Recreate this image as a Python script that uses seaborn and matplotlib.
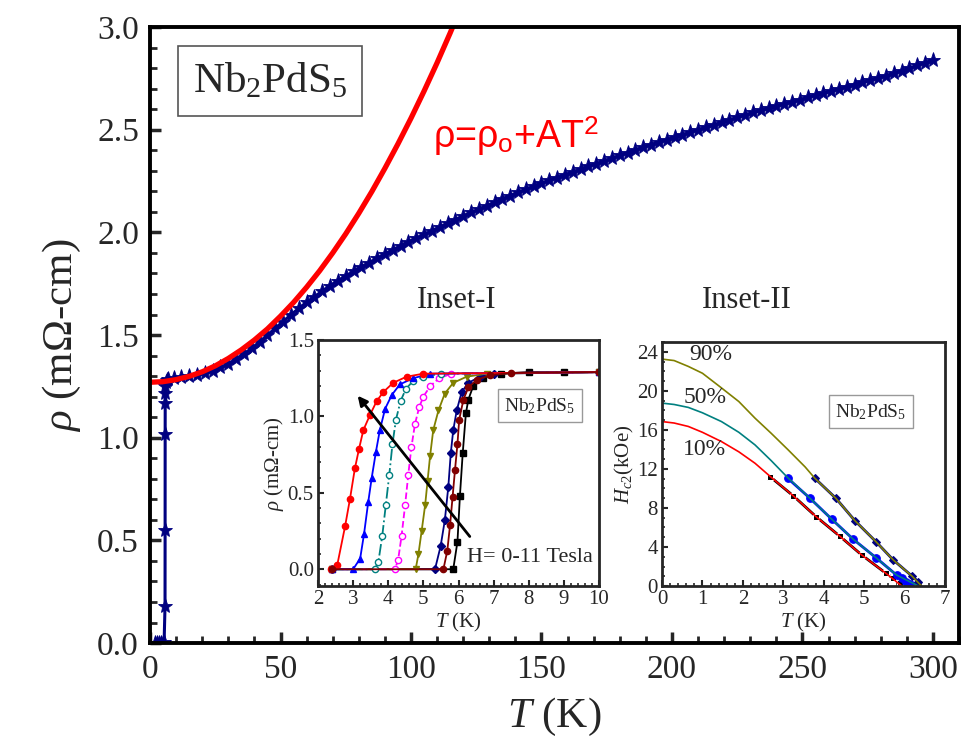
import numpy as np
import pandas as pd
import matplotlib
matplotlib.use("Agg")
import matplotlib.pyplot as plt
from matplotlib.ticker import MultipleLocator
import seaborn as sns

sns.set_theme(style="ticks")
plt.rcParams['font.family'] = ['Liberation Serif', 'DejaVu Serif']
plt.rcParams['mathtext.fontset'] = 'custom'
plt.rcParams['mathtext.rm'] = 'Liberation Serif'
plt.rcParams['mathtext.it'] = 'Liberation Serif:italic'
plt.rcParams['mathtext.sf'] = 'Liberation Sans'

# ---------------- main data ----------------
T_low = [2.0, 2.7, 3.4, 4.1, 4.8, 5.4, 5.75, 5.78, 5.8, 5.82, 5.85, 5.9, 6.2, 6.6, 7.0]
rho_low = [0, 0, 0, 0, 0, 0.005, 0.18, 0.55, 1.02, 1.17, 1.22, 1.25, 1.27, 1.28, 1.285]
T_main = [9, 12, 15, 18, 21, 24, 27, 30, 33, 36, 39, 42, 45, 48, 51, 54, 57, 60, 63, 66,
          69, 72, 75, 78, 81, 84, 87, 90, 93, 96, 99, 102, 105, 108, 111, 114, 117, 120,
          123, 126, 129, 132, 135, 138, 141, 144, 147, 150, 153, 156, 159, 162, 165, 168,
          171, 174, 177, 180, 183, 186, 189, 192, 195, 198, 201, 204, 207, 210, 213, 216,
          219, 222, 225, 228, 231, 234, 237, 240, 243, 246, 249, 252, 255, 258, 261, 264,
          267, 270, 273, 276, 279, 282, 285, 288, 291, 294, 297, 300]
rho_main = [1.290, 1.297, 1.300, 1.306, 1.314, 1.326, 1.342, 1.360, 1.384, 1.409, 1.436,
            1.467, 1.500, 1.533, 1.566, 1.599, 1.630, 1.660, 1.687, 1.714, 1.741, 1.765,
            1.788, 1.810, 1.832, 1.853, 1.874, 1.895, 1.915, 1.934, 1.954, 1.972, 1.990,
            2.008, 2.026, 2.044, 2.062, 2.080, 2.097, 2.113, 2.130, 2.146, 2.163, 2.179,
            2.195, 2.210, 2.225, 2.240, 2.254, 2.267, 2.281, 2.294, 2.308, 2.321, 2.335,
            2.348, 2.362, 2.375, 2.389, 2.402, 2.416, 2.428, 2.440, 2.452, 2.464, 2.476,
            2.488, 2.500, 2.512, 2.524, 2.536, 2.548, 2.560, 2.572, 2.584, 2.594, 2.605,
            2.615, 2.626, 2.636, 2.647, 2.657, 2.668, 2.678, 2.689, 2.699, 2.710, 2.720,
            2.731, 2.741, 2.752, 2.763, 2.775, 2.787, 2.800, 2.813, 2.827, 2.840]
T_fit = [0, 5, 10, 15, 20, 25, 30, 35, 40, 45, 50, 55, 60, 65, 70, 75, 80, 85, 90, 95,
         100, 105, 110, 115, 120]
rho_fit = [1.270, 1.273, 1.283, 1.299, 1.321, 1.350, 1.386, 1.428, 1.476, 1.530, 1.592,
           1.659, 1.733, 1.813, 1.900, 1.993, 2.093, 2.199, 2.312, 2.431, 2.556, 2.688,
           2.826, 2.971, 3.122]

# ---------------- inset I data ----------------
inset1 = [
    # (T, rho, color, marker, facecolor, linestyle)
    ([2.4, 5.85, 5.97, 6.04, 6.12, 6.21, 6.28, 6.42, 6.7, 7.2, 8, 9, 10],
     [0, 0, 0.18, 0.48, 0.76, 1.02, 1.11, 1.20, 1.25, 1.28, 1.29, 1.29, 1.29],
     'black', 's', 'black', '-'),
    ([2.4, 5.33, 5.49, 5.61, 5.71, 5.78, 5.85, 5.95, 6.09, 6.28, 6.61, 7.0, 10],
     [0, 0, 0.15, 0.32, 0.54, 0.76, 0.91, 1.04, 1.16, 1.22, 1.26, 1.28, 1.29],
     '#000080', 'D', '#000080', '-'),
    ([2.4, 4.78, 4.86, 4.95, 5.05, 5.12, 5.19, 5.28, 5.43, 5.61, 5.85, 6.23, 6.8, 10],
     [0, 0, 0.10, 0.25, 0.42, 0.58, 0.74, 0.91, 1.04, 1.15, 1.22, 1.26, 1.28, 1.29],
     '#808000', 'v', '#808000', '-'),
    ([2.4, 4.19, 4.28, 4.38, 4.48, 4.57, 4.66, 4.76, 4.88, 5.0, 5.2, 5.45, 5.8, 10],
     [0, 0, 0.06, 0.22, 0.42, 0.62, 0.80, 0.95, 1.06, 1.13, 1.20, 1.25, 1.28, 1.29],
     '#FF00FF', 'o', 'white', '--'),
    ([2.4, 3.62, 3.72, 3.83, 3.93, 4.03, 4.12, 4.22, 4.35, 4.5, 4.7, 5.0, 5.5, 10],
     [0, 0, 0.05, 0.22, 0.42, 0.62, 0.82, 0.98, 1.10, 1.18, 1.23, 1.26, 1.28, 1.29],
     '#008080', 'o', 'white', '-.'),
    ([2.4, 3.0, 3.2, 3.31, 3.43, 3.53, 3.65, 3.76, 3.91, 4.10, 4.33, 4.71, 5.19, 10],
     [0, 0, 0.07, 0.23, 0.44, 0.60, 0.77, 0.91, 1.05, 1.14, 1.21, 1.25, 1.28, 1.29],
     '#0000FF', '^', '#0000FF', '-'),
    ([2.37, 2.55, 2.77, 2.91, 3.05, 3.17, 3.29, 3.48, 3.67, 3.86, 4.14, 4.52, 5.0, 10],
     [0, 0.03, 0.28, 0.46, 0.66, 0.79, 0.91, 1.01, 1.10, 1.16, 1.22, 1.26, 1.28, 1.29],
     '#FF0000', 'o', '#FF0000', '-'),
    ([2.4, 5.57, 5.68, 5.76, 5.83, 5.90, 5.97, 6.02, 6.14, 6.28, 6.52, 6.9, 7.5, 10],
     [0, 0, 0.12, 0.29, 0.47, 0.65, 0.82, 0.98, 1.11, 1.19, 1.24, 1.27, 1.285, 1.29],
     '#800000', 'o', '#800000', '-'),
]

# ---------------- inset II data ----------------
fit90_T = [0, 0.3, 0.65, 1.0, 1.47, 1.9, 2.3, 2.7, 3.12, 3.54, 3.78, 4.30, 4.77, 5.29, 5.72, 6.18, 6.42]
fit90_H = [23.25, 23.1, 22.5, 21.8, 20.3, 18.9, 17.2, 15.65, 13.95, 12.2, 11.04, 8.99, 6.70, 4.55, 2.67, 1.03, 0]
fit50_T = [0, 0.3, 0.65, 1.0, 1.47, 1.9, 2.3, 2.7, 3.11, 3.66, 4.20, 4.73, 5.29, 5.80, 6.34]
fit50_H = [18.74, 18.6, 18.3, 17.75, 16.85, 15.75, 14.46, 12.85, 11.1, 8.99, 6.84, 4.79, 2.91, 1.13, 0]
fit10_T = [0, 0.3, 0.65, 1.0, 1.47, 1.9, 2.3, 2.67, 3.25, 3.81, 4.39, 4.94, 5.54, 5.93]
fit10_H = [16.85, 16.7, 16.35, 15.75, 14.8, 13.75, 12.58, 11.25, 9.23, 7.11, 5.13, 3.18, 1.30, 0]
sq10_T = [2.67, 3.25, 3.81, 4.39, 4.94, 5.54, 5.72, 5.89]
sq10_H = [11.21, 9.23, 7.11, 5.13, 3.18, 1.30, 0.79, 0.27]
ci50_T = [3.11, 3.66, 4.20, 4.73, 5.29, 5.80, 5.93, 6.04, 6.13]
ci50_H = [11.04, 8.99, 6.84, 4.79, 2.91, 1.13, 0.79, 0.44, 0.20]
di90_T = [3.78, 4.30, 4.77, 5.29, 5.72, 6.18, 6.34]
di90_H = [11.04, 8.99, 6.70, 4.55, 2.67, 1.03, 0.44]

# ---------------- figure ----------------
fig = plt.figure(figsize=(9.66, 7.52), dpi=100)
ax = fig.add_axes([0.1553, 0.1449, 0.8375, 0.8191])

navy = '#000080'
sns.lineplot(x=T_low + T_main, y=rho_low + rho_main, ax=ax, color=navy, lw=2.2,
             marker='*', markersize=11, markeredgecolor=navy, markeredgewidth=0.6,
             estimator=None, sort=False)
sns.lineplot(x=T_fit, y=rho_fit, ax=ax, color='#FF0000', lw=3.8, estimator=None, sort=False)

ax.set_xlim(0, 310)
ax.set_ylim(0, 3.0)
ax.xaxis.set_major_locator(MultipleLocator(50))
ax.xaxis.set_minor_locator(MultipleLocator(10))
ax.yaxis.set_major_locator(MultipleLocator(0.5))
ax.yaxis.set_minor_locator(MultipleLocator(0.1))
ax.yaxis.set_major_formatter(matplotlib.ticker.FormatStrFormatter('%.1f'))
ax.tick_params(which='both', direction='in', top=False, right=False, labelsize=24, pad=8)
ax.tick_params(which='major', length=8, width=2.5)
ax.tick_params(which='minor', length=5, width=2)
for s in ax.spines.values():
    s.set_linewidth(2.8)
    s.set_color('black')
ax.set_xlabel(r'$T$ (K)', fontsize=31, labelpad=8)
ax.set_ylabel(r'$\rho$ (mΩ-cm)', fontsize=31, labelpad=10)

ax.text(46, 2.737, r'Nb$_\mathrm{2}$PdS$_\mathrm{5}$', fontsize=31, ha='center', va='center',
        bbox=dict(boxstyle='square,pad=0.35', fc='white', ec='#555555', lw=1.2))
ax.text(108.5, 2.47, r'ρ=ρ$_\mathsf{o}$+AT$^\mathsf{2}$', fontsize=27, color='#FF0000',
        family='Liberation Sans', ha='left', va='center')

fig.text(0.473, 0.601, 'Inset-I', fontsize=22, ha='center', va='center')
fig.text(0.773, 0.601, 'Inset-II', fontsize=22, ha='center', va='center')

# ---------------- inset I ----------------
a1 = fig.add_axes([0.3292, 0.2207, 0.2909, 0.3271])
for T, r, c, m, fc, ls in inset1:
    sns.lineplot(x=T, y=r, ax=a1, color=c, lw=1.3, ls=ls, marker=m, markersize=4.5,
                 markerfacecolor=fc, markeredgecolor=c, markeredgewidth=1.0,
                 estimator=None, sort=False)
a1.set_xlim(2, 10)
a1.set_ylim(-0.11, 1.5)
a1.xaxis.set_major_locator(MultipleLocator(1))
a1.xaxis.set_minor_locator(MultipleLocator(0.2))
a1.yaxis.set_major_locator(MultipleLocator(0.5))
a1.yaxis.set_minor_locator(MultipleLocator(0.1))
a1.yaxis.set_major_formatter(matplotlib.ticker.FormatStrFormatter('%.1f'))
a1.tick_params(which='both', direction='in', top=False, right=False, labelsize=15, pad=3)
a1.tick_params(which='major', length=4, width=1.5)
a1.tick_params(which='minor', length=2.5, width=1.2)
for s in a1.spines.values():
    s.set_linewidth(2)
a1.set_xlabel(r'$T$ (K)', fontsize=15, labelpad=1)
a1.set_ylabel(r'$\rho$ (mΩ-cm)', fontsize=15, labelpad=1)
a1.annotate('', xy=(3.08, 1.15), xytext=(6.37, 0.20),
            arrowprops=dict(arrowstyle='-|>', color='black', lw=2, mutation_scale=14))
a1.text(8.32, 1.07, r'Nb$_\mathrm{2}$PdS$_\mathrm{5}$', fontsize=14, ha='center', va='center',
        bbox=dict(boxstyle='square,pad=0.35', fc='white', ec='#999999', lw=1))
a1.text(8.04, 0.08, 'H= 0-11 Tesla', fontsize=16, ha='center', va='center')

# ---------------- inset II ----------------
a2 = fig.add_axes([0.6853, 0.2207, 0.2930, 0.3245])
sns.lineplot(x=sq10_T, y=sq10_H, ax=a2, color='black', lw=2, marker='s', markersize=5,
             estimator=None, sort=False)
sns.lineplot(x=ci50_T, y=ci50_H, ax=a2, color='#0000FF', lw=2, marker='o', markersize=5.5,
             markeredgecolor='#0000FF', estimator=None, sort=False)
sns.lineplot(x=di90_T, y=di90_H, ax=a2, color=navy, lw=2, marker='D', markersize=4.5,
             markeredgecolor=navy, estimator=None, sort=False)
sns.lineplot(x=fit10_T, y=fit10_H, ax=a2, color='#FF0000', lw=1.2, estimator=None, sort=False)
sns.lineplot(x=fit50_T, y=fit50_H, ax=a2, color='#008080', lw=1.2, estimator=None, sort=False)
sns.lineplot(x=fit90_T, y=fit90_H, ax=a2, color='#808000', lw=1.2, estimator=None, sort=False)
a2.set_xlim(0, 7)
a2.set_ylim(0, 25)
a2.xaxis.set_major_locator(MultipleLocator(1))
a2.xaxis.set_minor_locator(MultipleLocator(0.2))
a2.yaxis.set_major_locator(MultipleLocator(4))
a2.yaxis.set_minor_locator(MultipleLocator(1))
a2.tick_params(which='both', direction='in', top=False, right=False, labelsize=15, pad=3)
a2.tick_params(which='major', length=4, width=1.5)
a2.tick_params(which='minor', length=2.5, width=1.2)
for s in a2.spines.values():
    s.set_linewidth(2)
a2.set_xlabel(r'$T$ (K)', fontsize=15, labelpad=1)
a2.set_ylabel(r'$H_{c2}$(kOe)', fontsize=15, labelpad=1)
a2.text(1.21, 23.7, '90%', fontsize=17, ha='center', va='center')
a2.text(1.06, 19.3, '50%', fontsize=17, ha='center', va='center')
a2.text(1.05, 14.0, '10%', fontsize=17, ha='center', va='center')
a2.text(5.17, 17.85, r'Nb$_\mathrm{2}$PdS$_\mathrm{5}$', fontsize=14, ha='center', va='center',
        bbox=dict(boxstyle='square,pad=0.35', fc='white', ec='#999999', lw=1))

fig.savefig('out.png', dpi=100)
